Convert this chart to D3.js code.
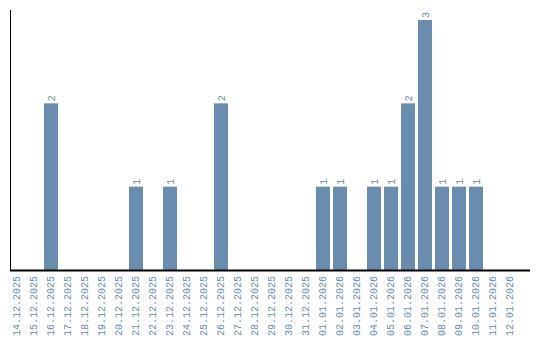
<!DOCTYPE html>
<html>
<head>
<meta charset="utf-8">
<script src="https://cdn.jsdelivr.net/npm/d3@7"></script>
<style>
  body { margin: 0; background: #fff; }
</style>
</head>
<body>
<div id="chart"></div>
<script>
var dates = ["14.12.2025", "15.12.2025", "16.12.2025", "17.12.2025", "18.12.2025", "19.12.2025",
    "20.12.2025", "21.12.2025", "22.12.2025", "23.12.2025", "24.12.2025", "25.12.2025",
    "26.12.2025", "27.12.2025", "28.12.2025", "29.12.2025", "30.12.2025", "31.12.2025",
    "01.01.2026", "02.01.2026", "03.01.2026", "04.01.2026", "05.01.2026", "06.01.2026",
    "07.01.2026", "08.01.2026", "09.01.2026", "10.01.2026", "11.01.2026", "12.01.2026"]
var counts = [0, 0, 2, 0, 0, 0, 0, 1, 0, 1, 0, 0, 2, 0, 0, 0, 0, 0,
    1, 1, 0, 1, 1, 2, 3, 1, 1, 1, 0, 0]

var data = dates.map(function (d, i) { return { date: d, value: counts[i] } })

var width = 540, height = 340
var color = "#6a8caf"

var svg = d3.select("#chart")
    .append("svg")
    .attr("width", width)
    .attr("height", height)

var x = d3.scaleBand()
    .domain(dates)
    .range([10, 520])
    .padding(0)

var y = d3.scaleLinear()
    .domain([0, 3])
    .range([270, 20])

var barW = x.bandwidth() * 14 / 17

// bars
svg.selectAll(".bar")
    .data(data.filter(function (d) { return d.value > 0 }))
    .enter()
    .append("rect")
    .attr("class", "bar")
    .attr("x", function (d) { return x(d.date) })
    .attr("y", function (d) { return y(d.value) })
    .attr("width", barW)
    .attr("height", function (d) { return y(0) - y(d.value) })
    .style("fill", color)

// value labels, rotated
svg.selectAll(".lbl")
    .data(data.filter(function (d) { return d.value > 0 }))
    .enter()
    .append("text")
    .attr("class", "lbl")
    .attr("transform", function (d) {
        return "translate(" + (x(d.date) + barW / 2 + 3.5) + "," + (y(d.value) - 2) + ") rotate(-90)"
    })
    .style("font-family", "'Liberation Mono', monospace")
    .style("font-size", "10px")
    .style("fill", color)
    .text(function (d) { return d.value })

// x axis
var xAxis = svg.append("g")
    .attr("transform", "translate(0,270)")
    .call(d3.axisBottom(x).tickSize(0).tickPadding(0))
xAxis.select(".domain").remove()
xAxis.append("line")
    .attr("x1", 10).attr("x2", 530)
    .attr("y1", 0.5).attr("y2", 0.5)
    .style("stroke", "#000")
    .style("stroke-width", 2)
xAxis.selectAll("text")
    .attr("transform", "rotate(-90)")
    .attr("x", -6)
    .attr("y", 0)
    .attr("dx", 0)
    .attr("dy", "0.32em")
    .style("text-anchor", "end")
    .style("font-family", "'Liberation Mono', monospace")
    .style("font-size", "10px")
    .style("fill", color)
xAxis.selectAll(".tick").attr("transform", function (d) {
    return "translate(" + (x(d) + barW / 2 - 0.5) + ",0)"
})

// y axis line
svg.append("line")
    .attr("x1", 10.5).attr("x2", 10.5)
    .attr("y1", 10).attr("y2", 270)
    .style("stroke", "#000")
    .style("stroke-width", 1)
</script>
</body>
</html>
